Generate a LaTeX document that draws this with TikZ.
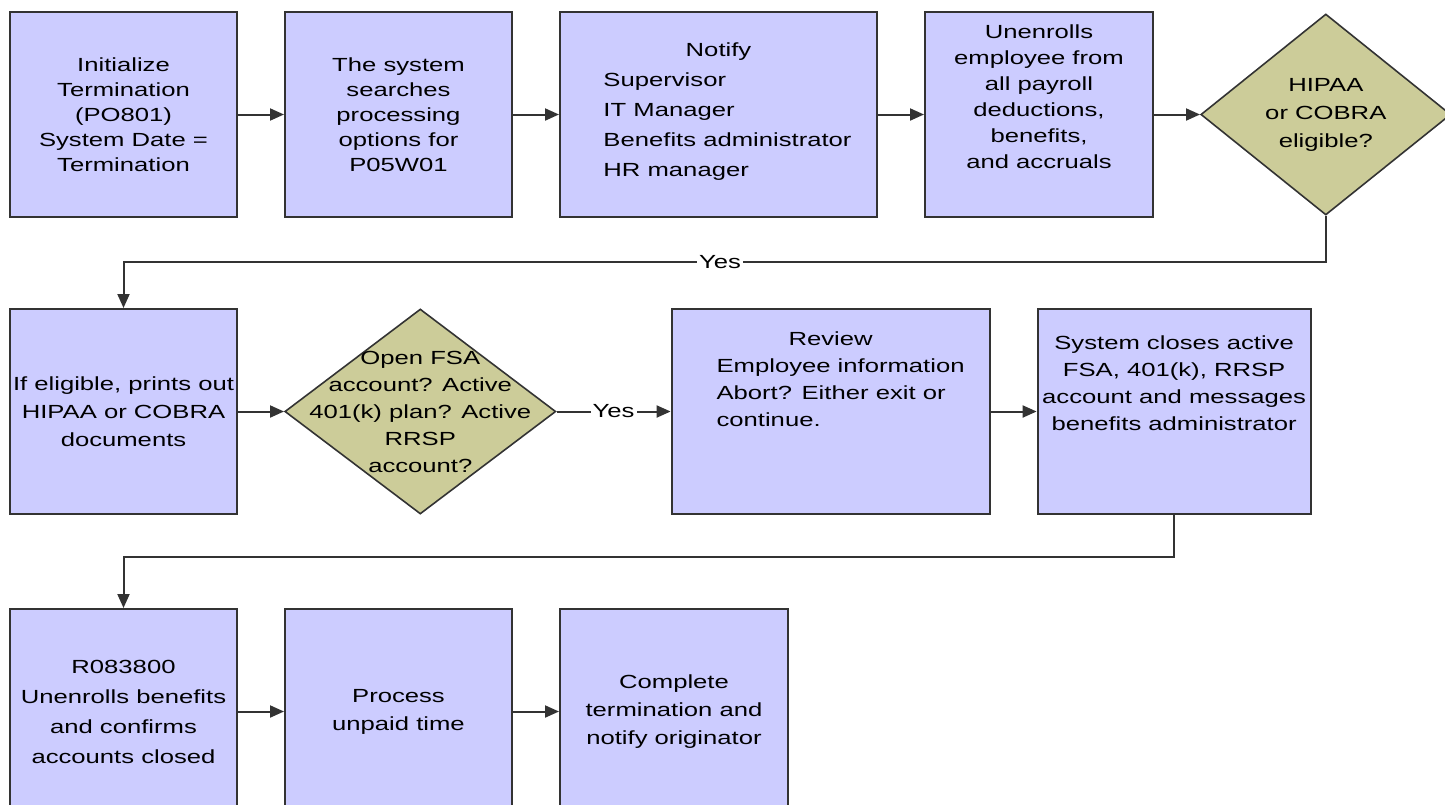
\documentclass[tikz,border=0pt]{standalone}
\usepackage{fontspec}
\setmainfont{Liberation Sans}[FakeStretch=1.35]
\usetikzlibrary{
    positioning, % relative placement of the boxes
    arrows.meta, % arrow tips
    shapes.geometric % diamond
}
\definecolor{boxblue}{HTML}{CCCCFF}
\definecolor{boxkhaki}{HTML}{CCCC99}
\definecolor{edgegray}{HTML}{333333}

\begin{document}
\begin{tikzpicture}[font=\fontsize{9.5}{12.5}\selectfont]

    % --- Styles ---
    \tikzset{
        % process boxes
        step_box/.style={
            draw=edgegray,
            line width=1pt,
            rectangle,
            fill=boxblue,
            minimum width=113.5pt,
            minimum height=102.5pt,
            inner sep=1pt,
            align=center
        },
        % decision diamonds
        decision_box/.style={
            draw=edgegray,
            line width=0.8pt,
            diamond,
            fill=boxkhaki,
            minimum width=125pt,
            minimum height=100.5pt,
            inner sep=0pt
        },
        inner_text/.style={align=center, inner sep=0pt},
        flow_arrow/.style={
            -{Triangle[length=7pt,width=6pt]},
            line width=1pt,
            draw=edgegray
        },
        yes_label/.style={fill=white, inner sep=1pt}
    }

    \useasboundingbox (0,0) rectangle (722.5pt,-402pt);

    % --- Row 1 ---
    \node[step_box] (init) at (61.75pt,-57.25pt) {Initialize\\Termination\\(PO801)\\System Date =\\Termination};
    \node[step_box, right=23pt of init] (search) {The system\\searches\\processing\\options for\\P05W01};
    \node[step_box, right=23pt of search, minimum width=158.5pt, font=\fontsize{9.5}{15}\selectfont] (notify) {Notify\\\hspace*{9pt}\begin{tabular}[t]{@{}l@{}}Supervisor\\IT Manager\\Benefits administrator\\HR manager\end{tabular}};
    \node[step_box, right=23pt of notify, minimum width=114pt,
        label={[inner_text, font=\fontsize{9.5}{13}\selectfont, yshift=9pt]center:{Unenrolls\\employee from\\all payroll\\deductions,\\benefits,\\and accruals}}] (unenroll) {};
    \node[decision_box, right=23pt of unenroll,
        label={[inner_text, font=\fontsize{9.5}{14}\selectfont]center:{HIPAA\\or COBRA\\eligible?}}] (hipaa) {};

    % --- Row 2 ---
    \node[step_box, below=45pt of init, font=\fontsize{9.5}{14}\selectfont] (prints) {If eligible, prints out\\HIPAA or COBRA\\documents};
    \node[decision_box, right=23pt of prints, minimum width=135.5pt, minimum height=102.5pt,
        label={[inner_text, font=\fontsize{9.5}{13.5}\selectfont]center:{Open FSA\\account? Active\\401(k) plan? Active\\RRSP\\account?}}] (fsa) {};
    \node[step_box, right=57pt of fsa, minimum width=159pt,
        label={[inner_text, font=\fontsize{9.5}{13.5}\selectfont, yshift=14pt]center:{Review\\\hspace*{10pt}\begin{tabular}[t]{@{}l@{}}Employee information\\Abort? Either exit or\\continue.\end{tabular}}}] (review) {};
    \node[step_box, right=23pt of review, minimum width=136.5pt,
        label={[inner_text, font=\fontsize{9.5}{13.5}\selectfont, yshift=14pt]center:{System closes active\\FSA, 401(k), RRSP\\account and messages\\benefits administrator}}] (closes) {};

    % --- Row 3 ---
    \node[step_box, below=46.5pt of prints, font=\fontsize{9.5}{15}\selectfont] (confirm) {R083800\\Unenrolls benefits\\and confirms\\accounts closed};
    \node[step_box, right=23pt of confirm, font=\fontsize{9.5}{14}\selectfont] (unpaid) {Process\\unpaid time};
    \node[step_box, right=23pt of unpaid, minimum width=114pt, font=\fontsize{9.5}{14}\selectfont] (complete) {Complete\\termination and\\notify originator};

    % --- Bends ---
    \coordinate (yes_one) at (360pt,-131pt);
    \coordinate (turn_two) at (61.75pt,-278.5pt);

    % --- Arrows ---
    \draw[flow_arrow] (init.east) -- (search.west);
    \draw[flow_arrow] (search.east) -- (notify.west);
    \draw[flow_arrow] (notify.east) -- (unenroll.west);
    \draw[flow_arrow] (unenroll.east) -- (hipaa.west);
    \draw[flow_arrow] (hipaa.south) |- (yes_one) node[yes_label] {Yes} -| (prints.north);
    \draw[flow_arrow] (prints.east) -- (fsa.west);
    \draw[flow_arrow] (fsa.east) -- node[yes_label] {Yes} (review.west);
    \draw[flow_arrow] (review.east) -- (closes.west);
    \draw[flow_arrow] (closes.south) |- (turn_two) -- (confirm.north);
    \draw[flow_arrow] (confirm.east) -- (unpaid.west);
    \draw[flow_arrow] (unpaid.east) -- (complete.west);

\end{tikzpicture}
\end{document}
